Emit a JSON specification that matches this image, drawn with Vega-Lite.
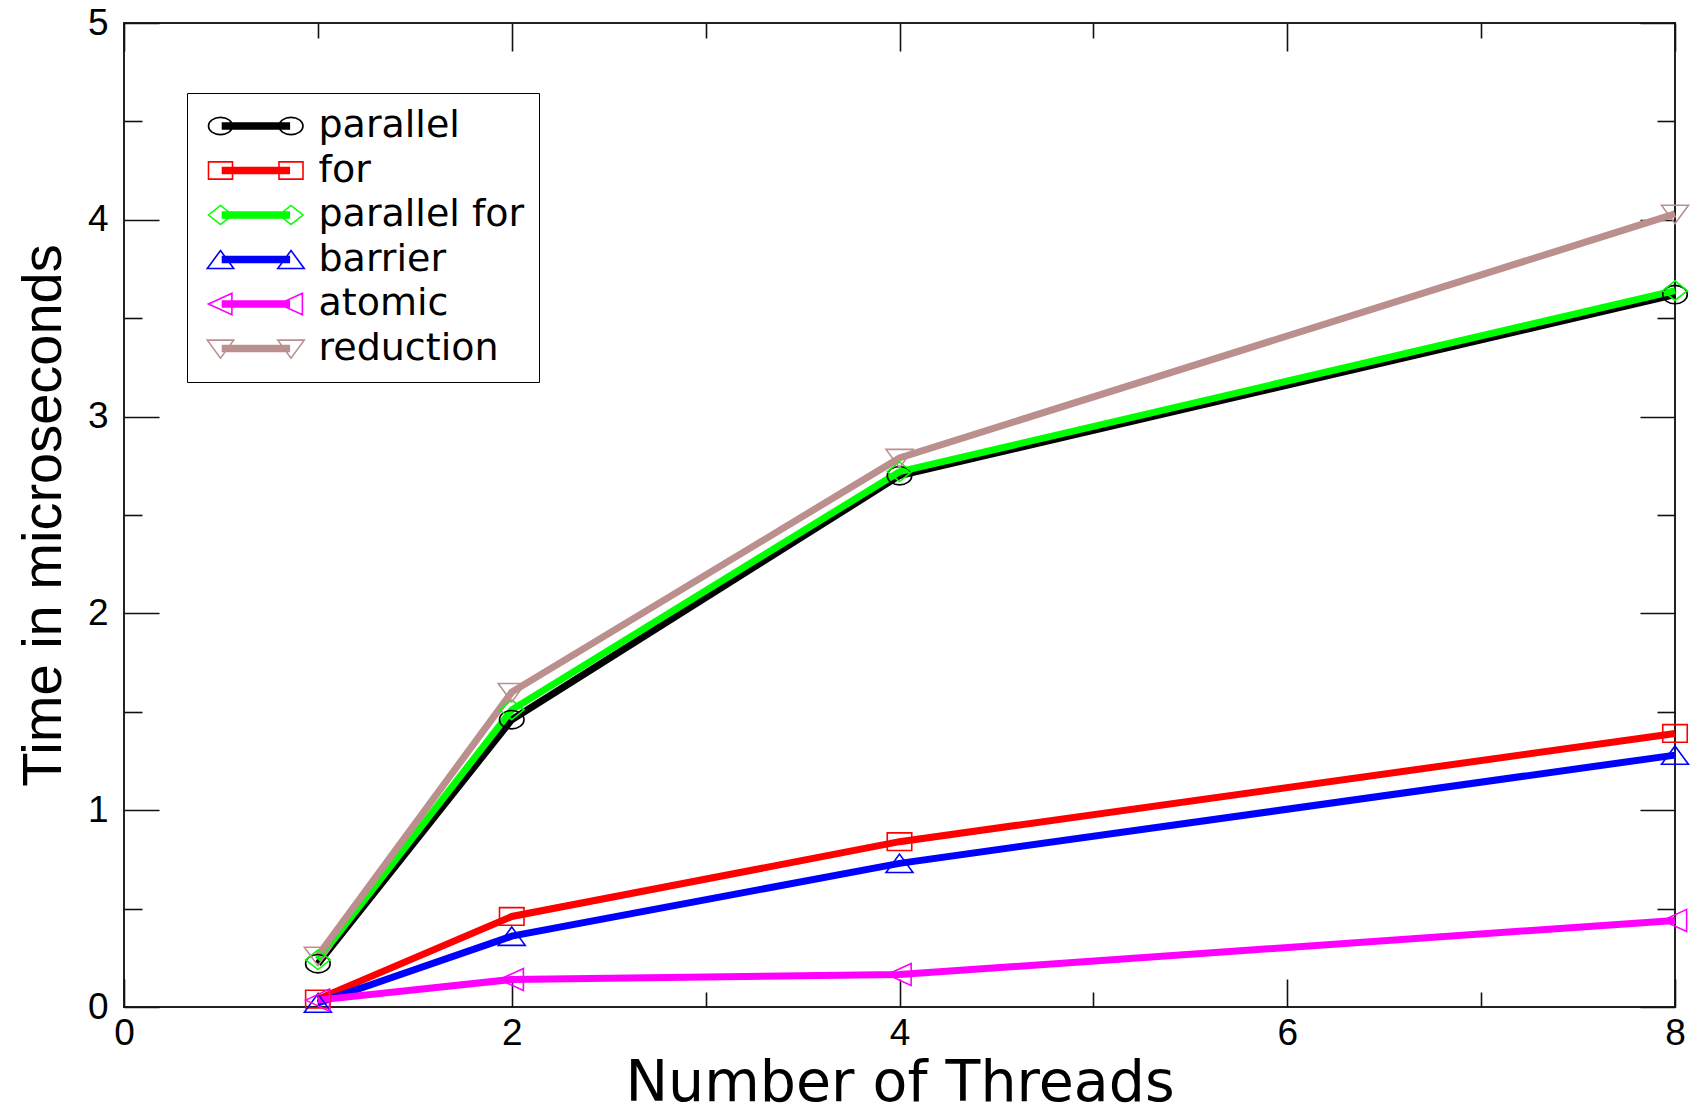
{
  "$schema": "https://vega.github.io/schema/vega-lite/v6.json",
  "width": 1551,
  "height": 984,
  "autosize": "none",
  "padding": {"left": 124, "top": 23, "right": 22, "bottom": 105},
  "background": "white",
  "config": {
    "view": {"stroke": "#222222", "strokeWidth": 2},
    "axis": {
      "grid": false,
      "domain": false,
      "tickColor": "#111111",
      "tickWidth": 1.6,
      "labelFont": "Liberation Sans",
      "labelFontSize": 37,
      "labelColor": "black",
      "labelFlush": false,
      "labelOverlap": false,
      "titleColor": "black",
      "titleFontWeight": "normal"
    }
  },
  "data": {
    "values": [
      {"series": "parallel", "threads": 1, "time": 0.22},
      {"series": "parallel", "threads": 2, "time": 1.46},
      {"series": "parallel", "threads": 4, "time": 2.70},
      {"series": "parallel", "threads": 8, "time": 3.62},
      {"series": "for", "threads": 1, "time": 0.04},
      {"series": "for", "threads": 2, "time": 0.46},
      {"series": "for", "threads": 4, "time": 0.84},
      {"series": "for", "threads": 8, "time": 1.39},
      {"series": "parallel for", "threads": 1, "time": 0.24},
      {"series": "parallel for", "threads": 2, "time": 1.51},
      {"series": "parallel for", "threads": 4, "time": 2.72},
      {"series": "parallel for", "threads": 8, "time": 3.64},
      {"series": "barrier", "threads": 1, "time": 0.02},
      {"series": "barrier", "threads": 2, "time": 0.36},
      {"series": "barrier", "threads": 4, "time": 0.73},
      {"series": "barrier", "threads": 8, "time": 1.28},
      {"series": "atomic", "threads": 1, "time": 0.035},
      {"series": "atomic", "threads": 2, "time": 0.14},
      {"series": "atomic", "threads": 4, "time": 0.165},
      {"series": "atomic", "threads": 8, "time": 0.44},
      {"series": "reduction", "threads": 1, "time": 0.26},
      {"series": "reduction", "threads": 2, "time": 1.60},
      {"series": "reduction", "threads": 4, "time": 2.79},
      {"series": "reduction", "threads": 8, "time": 4.03}
    ]
  },
  "resolve": {"axis": {"x": "independent", "y": "independent"}},
  "layer": [
    {
      "mark": {"type": "point", "filled": false, "strokeWidth": 1.6, "opacity": 0},
      "encoding": {
        "x": {"field": "threads", "type": "quantitative", "scale": {"domain": [0, 8], "nice": false, "zero": false}, "axis": null},
        "y": {"field": "time", "type": "quantitative", "scale": {"domain": [0, 5], "nice": false, "zero": false}, "axis": null},
        "color": {"field": "series", "type": "nominal",
          "scale": {"domain": ["parallel", "for", "parallel for", "barrier", "atomic", "reduction"],
            "range": ["#000000", "#ff0000", "#00ff00", "#0000ff", "#ff00ff", "#bc8f8f"]},
          "legend": {"title": null, "orient": "none", "legendX": 63, "legendY": 70, "padding": 14,
            "strokeColor": "black", "fillColor": "white",
            "labelFont": "DejaVu Sans", "labelFontSize": 38, "labelColor": "black", "labelLimit": 400,
            "symbolSize": 576, "symbolStrokeWidth": 1.6, "symbolOpacity": 1, "symbolOffset": 0.5, "labelOffset": 79, "rowPadding": 6.5,
            "encode": {"legend": {"update": {"strokeWidth": {"value": 2}}}}}},
        "shape": {"field": "series", "type": "nominal",
          "scale": {"domain": ["parallel", "for", "parallel for", "barrier", "atomic", "reduction"],
            "range": [
              "M0.1,-0.24L5.8,-0.24M0.1,-0.12L5.8,-0.12M0.1,0L5.8,0M0.1,0.12L5.8,0.12M0.1,0.24L5.8,0.24M-1,0A1,0.72,0,1,0,1,0A1,0.72,0,1,0,-1,0M4.875,0A1,0.72,0,1,0,6.875,0A1,0.72,0,1,0,4.875,0",
              "M0.1,-0.24L5.8,-0.24M0.1,-0.12L5.8,-0.12M0.1,0L5.8,0M0.1,0.12L5.8,0.12M0.1,0.24L5.8,0.24M-1,-0.72L1,-0.72L1,0.72L-1,0.72ZM4.875,-0.72L6.875,-0.72L6.875,0.72L4.875,0.72Z",
              "M0.1,-0.24L5.8,-0.24M0.1,-0.12L5.8,-0.12M0.1,0L5.8,0M0.1,0.12L5.8,0.12M0.1,0.24L5.8,0.24M-1,0L0,-0.8L1,0L0,0.8ZM4.875,0L5.875,-0.8L6.875,0L5.875,0.8Z",
              "M0.1,-0.24L5.8,-0.24M0.1,-0.12L5.8,-0.12M0.1,0L5.8,0M0.1,0.12L5.8,0.12M0.1,0.24L5.8,0.24M0,-0.75L1.1,0.75L-1.1,0.75ZM5.875,-0.75L6.975,0.75L4.775,0.75Z",
              "M0.1,-0.24L5.8,-0.24M0.1,-0.12L5.8,-0.12M0.1,0L5.8,0M0.1,0.12L5.8,0.12M0.1,0.24L5.8,0.24M-1,0L0.95,-0.9L0.95,0.9ZM4.875,0L6.825,-0.9L6.825,0.9Z",
              "M0.1,-0.24L5.8,-0.24M0.1,-0.12L5.8,-0.12M0.1,0L5.8,0M0.1,0.12L5.8,0.12M0.1,0.24L5.8,0.24M-1.1,-0.7L1.1,-0.7L0,0.8ZM4.775,-0.7L6.975,-0.7L5.875,0.8Z"
            ]},
          "legend": {"title": null, "orient": "none", "legendX": 63, "legendY": 70, "padding": 14,
            "strokeColor": "black", "fillColor": "white",
            "labelFont": "DejaVu Sans", "labelFontSize": 38, "labelColor": "black", "labelLimit": 400,
            "symbolSize": 576, "symbolStrokeWidth": 1.6, "symbolOpacity": 1, "symbolOffset": 0.5, "labelOffset": 79, "rowPadding": 6.5,
            "encode": {"legend": {"update": {"strokeWidth": {"value": 2}}}}}}
      }
    },
    {
      "mark": {"type": "line", "strokeWidth": 7},
      "encoding": {
        "x": {"field": "threads", "type": "quantitative",
          "axis": {"orient": "bottom", "values": [0, 2, 4, 6, 8], "tickSize": -28, "labelPadding": 36,
            "title": "Number of Threads", "titleFont": "DejaVu Sans", "titleFontSize": 57, "titlePadding": 4}},
        "y": {"field": "time", "type": "quantitative",
          "axis": {"orient": "left", "values": [0, 1, 2, 3, 4, 5], "tickSize": -35, "labelPadding": 51,
            "title": "Time in microseconds", "titleFont": "Liberation Sans", "titleFontSize": 56, "titlePadding": 15}},
        "color": {"field": "series", "type": "nominal", "legend": null}
      }
    },
    {
      "transform": [{"filter": "datum.series === 'parallel'"}],
      "mark": {"type": "point", "filled": false, "size": 600, "strokeWidth": 1.6, "opacity": 1,
        "shape": "M-1,0A1,0.75,0,1,0,1,0A1,0.75,0,1,0,-1,0"},
      "encoding": {
        "x": {"field": "threads", "type": "quantitative",
          "axis": {"orient": "bottom", "values": [1, 3, 5, 7], "tickSize": -15, "labels": false, "title": null}},
        "y": {"field": "time", "type": "quantitative",
          "axis": {"orient": "left", "values": [0.5, 1.5, 2.5, 3.5, 4.5], "tickSize": -18, "labels": false, "title": null}},
        "color": {"field": "series", "type": "nominal", "legend": null}
      }
    },
    {
      "transform": [{"filter": "datum.series === 'for'"}],
      "mark": {"type": "point", "filled": false, "size": 600, "strokeWidth": 1.6, "opacity": 1,
        "shape": "M-1,-0.72L1,-0.72L1,0.72L-1,0.72Z"},
      "encoding": {
        "x": {"field": "threads", "type": "quantitative",
          "axis": {"orient": "top", "values": [0, 2, 4, 6, 8], "tickSize": -28, "labels": false, "title": null}},
        "y": {"field": "time", "type": "quantitative",
          "axis": {"orient": "right", "values": [0, 1, 2, 3, 4, 5], "tickSize": -35, "labels": false, "title": null}},
        "color": {"field": "series", "type": "nominal", "legend": null}
      }
    },
    {
      "transform": [{"filter": "datum.series === 'parallel for'"}],
      "mark": {"type": "point", "filled": false, "size": 600, "strokeWidth": 1.6, "opacity": 1,
        "shape": "M-1,0L0,-0.8L1,0L0,0.8Z"},
      "encoding": {
        "x": {"field": "threads", "type": "quantitative",
          "axis": {"orient": "top", "values": [1, 3, 5, 7], "tickSize": -15, "labels": false, "title": null}},
        "y": {"field": "time", "type": "quantitative",
          "axis": {"orient": "right", "values": [0.5, 1.5, 2.5, 3.5, 4.5], "tickSize": -18, "labels": false, "title": null}},
        "color": {"field": "series", "type": "nominal", "legend": null}
      }
    },
    {
      "transform": [{"filter": "datum.series === 'barrier'"}],
      "mark": {"type": "point", "filled": false, "size": 600, "strokeWidth": 1.6, "opacity": 1,
        "shape": "M0,-0.75L1.1,0.75L-1.1,0.75Z"},
      "encoding": {
        "x": {"field": "threads", "type": "quantitative", "axis": null},
        "y": {"field": "time", "type": "quantitative", "axis": null},
        "color": {"field": "series", "type": "nominal", "legend": null}
      }
    },
    {
      "transform": [{"filter": "datum.series === 'atomic'"}],
      "mark": {"type": "point", "filled": false, "size": 600, "strokeWidth": 1.6, "opacity": 1,
        "shape": "M-1,0L0.95,-0.9L0.95,0.9Z"},
      "encoding": {
        "x": {"field": "threads", "type": "quantitative", "axis": null},
        "y": {"field": "time", "type": "quantitative", "axis": null},
        "color": {"field": "series", "type": "nominal", "legend": null}
      }
    },
    {
      "transform": [{"filter": "datum.series === 'reduction'"}],
      "mark": {"type": "point", "filled": false, "size": 600, "strokeWidth": 1.6, "opacity": 1,
        "shape": "M-1.1,-0.7L1.1,-0.7L0,0.8Z"},
      "encoding": {
        "x": {"field": "threads", "type": "quantitative", "axis": null},
        "y": {"field": "time", "type": "quantitative", "axis": null},
        "color": {"field": "series", "type": "nominal", "legend": null}
      }
    }
  ]
}
